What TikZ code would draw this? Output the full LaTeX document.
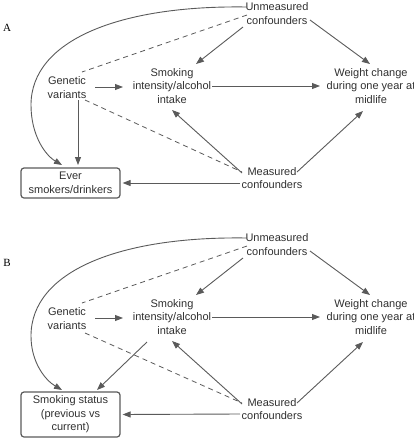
\documentclass[tikz,border=0pt]{standalone}
\usepackage{fontspec}
\setmainfont{Liberation Sans}
\newfontfamily\panelfont{Liberation Serif}
\usetikzlibrary{arrows.meta}
\definecolor{lin}{HTML}{5A5A5A}
\definecolor{txt}{HTML}{303030}
\begin{document}
\begin{tikzpicture}[x=1pt,y=-1pt,
  lbl/.style={align=center,font=\fontsize{11}{13.5}\selectfont,text=txt,inner sep=1pt},
  boxnode/.style={lbl,draw=lin,line width=1.2pt,rounded corners=3pt,minimum width=99pt},
  arr/.style={draw=lin,line width=0.9pt,-{Triangle[length=8pt,width=6pt]}},
  dsh/.style={draw=lin,line width=0.8pt,dash pattern=on 5pt off 4pt},
  panel/.style={font=\panelfont\fontsize{11}{13}\selectfont,text=black,inner sep=0pt}]
\useasboundingbox (0,0) rectangle (414,440);

% ---------------- Panel A ----------------
\node[panel] (labA) at (7,28) {A};
\node[lbl] (uA) at (277,13.5) {Unmeasured\\confounders};
\node[lbl] (gA) at (67,87.5) {Genetic\\variants};
\node[lbl] (sA) at (172,86) {Smoking\\intensity/alcohol\\intake};
\node[lbl] (wA) at (371,86) {Weight change\\during one year at\\midlife};
\node[lbl] (mA) at (272,178) {Measured\\confounders};
\node[boxnode,minimum height=30pt] (eA) at (70.5,183) {Ever\\smokers/drinkers};

\draw[arr] ([shift={(-34,13.5)}]uA.center) -- ([shift={(24,-22)}]sA.center);
\draw[arr] ([shift={(33,6.5)}]uA.center) -- ([shift={(-1,-22)}]wA.center);
\draw[dsh] ([shift={(-30,1.5)}]uA.center) -- ([shift={(15,-15.5)}]gA.center);
\draw[arr] ([shift={(-30,-6.5)}]uA.center) .. controls (120,5) and (31,40) .. (31,105)
   .. controls (31,135) and (45,155) .. ([shift={(-8.5,-18)}]eA.center);
\draw[arr] ([shift={(28,-0.5)}]gA.center) -- ([shift={(-49,1)}]sA.center);
\draw[arr] ([shift={(11,12.5)}]gA.center) -- ([shift={(7.5,-18)}]eA.center);
\draw[dsh] ([shift={(18,12.5)}]gA.center) -- ([shift={(-30,-6)}]mA.center);
\draw[arr] ([shift={(40,0)}]sA.center) -- ([shift={(-51,0)}]wA.center);
\draw[arr] ([shift={(-30,-5)}]mA.center) -- ([shift={(0,24)}]sA.center);
\draw[arr] ([shift={(25,-6)}]mA.center) -- ([shift={(-8,25)}]wA.center);
\draw[arr,shorten >=2pt] ([shift={(-32,5)}]mA.center) -- (eA.east);

% ---------------- Panel B ----------------
\node[panel] (labB) at (7,263) {B};
\node[lbl] (uB) at (277,244.5) {Unmeasured\\confounders};
\node[lbl] (gB) at (67,318.5) {Genetic\\variants};
\node[lbl] (sB) at (172,317) {Smoking\\intensity/alcohol\\intake};
\node[lbl] (wB) at (371,317) {Weight change\\during one year at\\midlife};
\node[lbl] (mB) at (272,409) {Measured\\confounders};
\node[boxnode,minimum height=45pt] (eB) at (70.5,414.5) {Smoking status\\(previous vs\\current)};

\draw[arr] ([shift={(-34,13.5)}]uB.center) -- ([shift={(24,-22)}]sB.center);
\draw[arr] ([shift={(33,6.5)}]uB.center) -- ([shift={(-1,-22)}]wB.center);
\draw[dsh] ([shift={(-30,1.5)}]uB.center) -- ([shift={(15,-15.5)}]gB.center);
\draw[arr] ([shift={(-30,-6.5)}]uB.center) .. controls (120,236) and (31,271) .. (31,336)
   .. controls (31,362) and (45,380) .. ([shift={(-8.5,-24.5)}]eB.center);
\draw[arr] ([shift={(28,-0.5)}]gB.center) -- ([shift={(-49,1)}]sB.center);
\draw[dsh] ([shift={(18,14.5)}]gB.center) -- ([shift={(-30,-6)}]mB.center);
\draw[arr] ([shift={(40,0)}]sB.center) -- ([shift={(-51,0)}]wB.center);
\draw[arr] ([shift={(-25,25)}]sB.center) -- ([shift={(26.5,-24.5)}]eB.center);
\draw[arr] ([shift={(-30,-5)}]mB.center) -- ([shift={(0,24)}]sB.center);
\draw[arr] ([shift={(25,-6)}]mB.center) -- ([shift={(-8,25)}]wB.center);
\draw[arr,shorten >=2pt] ([shift={(-32,5)}]mB.center) -- (eB.east);
\end{tikzpicture}
\end{document}
